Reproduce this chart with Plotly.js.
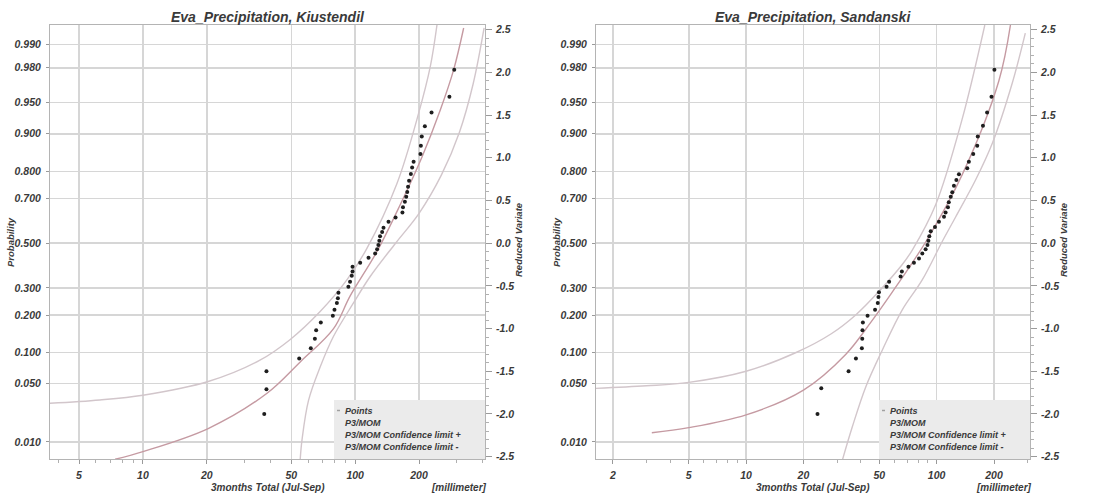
<!DOCTYPE html>
<html><head><meta charset="utf-8">
<script src="https://cdn.plot.ly/plotly-3.0.1.min.js"></script>
<style>html,body{margin:0;padding:0;background:#fff}#chart{width:1093px;height:494px}</style>
</head><body><div id="chart"></div>
<script>
// ---------- Data ----------
// Kiustendil: observed points (mm, reduced variate)
const kiuPointsMm = [37.3,38.2,38.2,54.5,61.8,64.6,65.5,68.9,78.5,79.9,82,82.9,83.4,92.9,94.6,96.4,97.2,97.2,105.6,115.6,124.2,126.9,128.6,130,131,134,136,143.6,155,167,168,171.5,174,176,177.5,179.5,183,185.5,188.5,203,204,206,213,229,278,293];
const kiuPointsVar = [-2.00,-1.71,-1.50,-1.35,-1.23,-1.12,-1.02,-0.93,-0.85,-0.78,-0.70,-0.645,-0.58,-0.51,-0.45,-0.38,-0.33,-0.275,-0.23,-0.17,-0.12,-0.07,-0.02,0.03,0.08,0.13,0.18,0.25,0.30,0.36,0.42,0.486,0.545,0.60,0.66,0.73,0.81,0.885,0.955,1.045,1.14,1.25,1.37,1.53,1.715,2.03];
// Kiustendil: P3/MOM fit and confidence limits
const kiuFitMm = [7.4,10,20.3,38.3,55.1,79.1,94.6,126.5,163,206.5,251.8,291,324.5];
const kiuFitVar = [-2.53,-2.44,-2.17,-1.76,-1.39,-1.0,-0.62,-0.1,0.45,1.01,1.56,2.03,2.52];
const kiuUpperMm = [3.64,6.27,10,20.3,35.6,49.3,68.4,91.4,113.6,157.4,199,226,242.9];
const kiuUpperVar = [-1.875,-1.836,-1.78,-1.62,-1.37,-1.13,-0.80,-0.43,-0.06,0.70,1.52,2.07,2.555];
const kiuLowerMm = [55.1,56.2,60.3,68.4,79.1,98.2,117.7,155,200,255,310,360,405];
const kiuLowerVar = [-2.53,-2.30,-1.84,-1.45,-1.09,-0.70,-0.39,0.0,0.35,0.80,1.30,1.87,2.52];

// Sandanski: observed points
const sanPointsMm = [23.7,24.8,34.5,37.7,40.5,40.7,40.8,41,43.4,47.5,49.1,49.5,49.8,54.6,56.3,64.7,65.7,71.1,76,80.8,84.1,87.5,89.5,90.5,91.5,93.1,98,102.8,109.3,111.4,114.6,115.8,118.6,120.8,123.2,126.9,130.9,144.8,147.6,155.6,163.3,164.4,175,184,194,201];
const sanPointsVar = [-2.00,-1.70,-1.50,-1.35,-1.23,-1.12,-1.02,-0.93,-0.85,-0.78,-0.70,-0.63,-0.575,-0.51,-0.45,-0.39,-0.33,-0.275,-0.23,-0.18,-0.12,-0.07,-0.02,0.03,0.08,0.14,0.19,0.25,0.31,0.36,0.42,0.478,0.545,0.596,0.673,0.74,0.807,0.877,0.955,1.045,1.14,1.25,1.376,1.53,1.715,2.03];
// Sandanski: P3/MOM fit and confidence limits
const sanFitMm = [3.2,5,10,20,33.4,45,58.6,87.9,136,212,244];
const sanFitVar = [-2.22,-2.16,-2.01,-1.72,-1.30,-0.93,-0.57,0.02,0.80,1.90,2.555];
const sanUpperMm = [1.63,3,5,10,18.3,28,37.6,50,66,74.5,98.8,136,179];
const sanUpperVar = [-1.70,-1.67,-1.63,-1.50,-1.28,-1.06,-0.84,-0.56,-0.25,-0.08,0.45,1.45,2.555];
const sanLowerMm = [32.1,36.1,42.5,51.9,66,84,107,126,160,196,249,292];
const sanLowerVar = [-2.53,-2.15,-1.68,-1.25,-0.78,-0.43,0.02,0.31,0.74,1.17,1.87,2.46];

// Tick labels
const probTicks = [0.010,0.050,0.100,0.200,0.300,0.500,0.700,0.800,0.900,0.950,0.980,0.990];
const probTickText = ['0.010','0.050','0.100','0.200','0.300','0.500','0.700','0.800','0.900','0.950','0.980','0.990'];
const variateTicks = [-2.5,-2.0,-1.5,-1.0,-0.5,0.0,0.5,1.0,1.5,2.0,2.5];
const variateTickText = ['-2.5','-2.0','-1.5','-1.0','-0.5','0.0','0.5','1.0','1.5','2.0','2.5'];
const kiuXTicks = [5,10,20,50,100,200];
const sanXTicks = [2,5,10,20,50,100,200];
const xMinorTicks = [2,3,4,6,7,8,9,30,40,60,70,80,90,300,400];

const titles = ['Eva_Precipitation, Kiustendil','Eva_Precipitation, Sandanski'];
const xTitle = '3months Total (Jul-Sep)';
const unitText = '[millimeter]';
const legendNames = ['Points','P3/MOM','P3/MOM Confidence limit +','P3/MOM Confidence limit -'];

// inverse standard normal (probability -> reduced variate), used for the probability tick positions
function probit(p){
  const a=[-3.969683028665376e+01,2.209460984245205e+02,-2.759285104469687e+02,1.383577518672690e+02,-3.066479806614716e+01,2.506628277459239e+00];
  const b=[-5.447609879822406e+01,1.615858368580409e+02,-1.556989798598866e+02,6.680131188771972e+01,-1.328068155288572e+01];
  const c=[-7.784894002430293e-03,-3.223964580411365e-01,-2.400758277161838e+00,-2.549732539343734e+00,4.374664141464968e+00,2.938163982698783e+00];
  const d=[7.784695709041462e-03,3.224671290700398e-01,2.445134137142996e+00,3.754408661907416e+00];
  const pl=0.02425; let q,r;
  if(p<pl){q=Math.sqrt(-2*Math.log(p));return (((((c[0]*q+c[1])*q+c[2])*q+c[3])*q+c[4])*q+c[5])/((((d[0]*q+d[1])*q+d[2])*q+d[3])*q+1);}
  if(p<=1-pl){q=p-0.5;r=q*q;return (((((a[0]*r+a[1])*r+a[2])*r+a[3])*r+a[4])*r+a[5])*q/(((((b[0]*r+b[1])*r+b[2])*r+b[3])*r+b[4])*r+1);}
  q=Math.sqrt(-2*Math.log(1-p));return -(((((c[0]*q+c[1])*q+c[2])*q+c[3])*q+c[4])*q+c[5])/((((d[0]*q+d[1])*q+d[2])*q+d[3])*q+1);
}

// ---------- Layout helpers ----------
const W=1093, H=494;
const px = v => v/W, py = v => 1 - v/H;
const FONT = 'Liberation Sans, Arial, sans-serif';
const TXT = '#3a3a3a';
const yRange = [-2.527, 2.555];
const yDomain = [py(459), py(25)];
const panels = [
  {x0:50, x1:485, xr:[Math.log10(3.65), Math.log10(409)], xt:kiuXTicks},
  {x0:596, x1:1030, xr:[Math.log10(1.63), Math.log10(309)], xt:sanXTicks}
];
const fitColor = '#c59aa2', confColor = '#d2c6cb';

const traces = [];
const sets = [
  {pm:kiuPointsMm, pv:kiuPointsVar, fm:kiuFitMm, fv:kiuFitVar, um:kiuUpperMm, uv:kiuUpperVar, lm:kiuLowerMm, lv:kiuLowerVar},
  {pm:sanPointsMm, pv:sanPointsVar, fm:sanFitMm, fv:sanFitVar, um:sanUpperMm, uv:sanUpperVar, lm:sanLowerMm, lv:sanLowerVar}
];
sets.forEach((s,i)=>{
  const xa = i===0 ? 'x' : 'x2';
  const ya = i===0 ? 'y' : 'y3';
  const yb = i===0 ? 'y2' : 'y4';
  traces.push({x:s.um, y:s.uv, xaxis:xa, yaxis:ya, mode:'lines', line:{color:confColor, width:1.4, shape:'spline', smoothing:1}, name:legendNames[2], showlegend:false, hoverinfo:'skip'});
  traces.push({x:s.lm, y:s.lv, xaxis:xa, yaxis:ya, mode:'lines', line:{color:confColor, width:1.4, shape:'spline', smoothing:1}, name:legendNames[3], showlegend:false, hoverinfo:'skip'});
  traces.push({x:s.fm, y:s.fv, xaxis:xa, yaxis:ya, mode:'lines', line:{color:fitColor, width:1.4, shape:'spline', smoothing:1}, name:legendNames[1], showlegend:false, hoverinfo:'skip'});
  traces.push({x:s.pm, y:s.pv, xaxis:xa, yaxis:ya, mode:'markers', marker:{color:'#1e1e1e', size:4, symbol:'circle'}, name:legendNames[0], showlegend:false});
  traces.push({x:[s.pm[0]], y:[s.pv[0]], xaxis:xa, yaxis:yb, mode:'markers', marker:{opacity:0}, showlegend:false, hoverinfo:'skip'});
});

const tickFont = {family:FONT, size:10.5, color:TXT, weight:'bold', style:'italic'};
function xAxis(p, yAnchor){
  return {type:'log', domain:[px(p.x0), px(p.x1)], range:p.xr, anchor:yAnchor,
    tickmode:'array', tickvals:p.xt, ticktext:p.xt.map(String), ticks:'outside', ticklen:4, tickcolor:'#9a9a9a',
    ticklabelstandoff:2,
    minor:{tickmode:'array', tickvals:xMinorTicks, ticks:'outside', ticklen:3, tickcolor:'#b0b0b0', showgrid:false},
    showgrid:true, gridcolor:'#d6d6d6', gridwidth:1.5, showline:true, linecolor:'#b4b4b4', linewidth:1, mirror:true,
    zeroline:false, tickfont:tickFont, fixedrange:true};
}
function yLeft(xAnchor){
  return {domain:yDomain, range:yRange, anchor:xAnchor, tickmode:'array', tickvals:probTicks.map(probit), ticktext:probTickText,
    ticks:'outside', ticklen:3, tickcolor:'#9a9a9a', ticklabelstandoff:3,
    showgrid:true, gridcolor:'#d6d6d6', gridwidth:1.5, showline:true, linecolor:'#b4b4b4', mirror:true, zeroline:false, tickfont:tickFont};
}
function yRight(xAnchor, over){
  return {domain:yDomain, range:yRange, anchor:xAnchor, overlaying:over, side:'right', tickmode:'array', tickvals:variateTicks, ticktext:variateTickText,
    ticks:'outside', ticklen:6, tickcolor:'#9a9a9a', ticklabelstandoff:2,
    minor:{dtick:0.1, ticks:'outside', ticklen:3, tickcolor:'#b0b0b0', showgrid:false},
    showgrid:false, showline:false, zeroline:false, tickfont:tickFont};
}

const annFont = (sz) => ({family:FONT, size:sz, color:TXT, weight:'bold', style:'italic'});
const annotations = [];
const shapes = [];
panels.forEach((p,i)=>{
  const cx = (p.x0+p.x1)/2;
  annotations.push({xref:'paper', yref:'paper', x:px(cx), y:py(17), text:titles[i], showarrow:false, font:annFont(14), xanchor:'center', yanchor:'middle'});
  annotations.push({xref:'paper', yref:'paper', x:px(cx), y:py(487), text:xTitle, showarrow:false, font:annFont(10), xanchor:'center', yanchor:'middle'});
  annotations.push({xref:'paper', yref:'paper', x:px(p.x1+4), y:py(487), text:unitText, showarrow:false, font:annFont(10), xanchor:'right', yanchor:'middle'});
  annotations.push({xref:'paper', yref:'paper', x:px(p.x0-40), y:py(242), text:'Probability', textangle:-90, showarrow:false, font:annFont(9.5), xanchor:'center', yanchor:'middle'});
  annotations.push({xref:'paper', yref:'paper', x:px(p.x1+34), y:py(240), text:'Reduced Variate', textangle:-90, showarrow:false, font:annFont(9.5), xanchor:'center', yanchor:'middle'});
  // legend box
  const lx0 = p.x1-151;
  shapes.push({type:'rect', xref:'paper', yref:'paper', x0:px(lx0), x1:px(p.x1), y0:py(459), y1:py(400), fillcolor:'#ebebeb', line:{width:0}, layer:'above'});
  shapes.push({type:'line', xref:'paper', yref:'paper', x0:px(lx0+3), x1:px(lx0+6), y0:py(410.5), y1:py(410.5), line:{color:'#a0a0a0', width:1.5}, layer:'above'});
  legendNames.forEach((n,k)=>{
    annotations.push({xref:'paper', yref:'paper', x:px(lx0+9), y:py(410.5+k*12.2), text:n, showarrow:false, font:annFont(9), xanchor:'left', yanchor:'middle'});
  });
});

const layout = {
  width:W, height:H, margin:{l:0,r:0,t:0,b:0}, paper_bgcolor:'#fff', plot_bgcolor:'#fff', showlegend:false,
  xaxis:xAxis(panels[0],'y'), yaxis:yLeft('x'), yaxis2:yRight('x','y'),
  xaxis2:xAxis(panels[1],'y3'), yaxis3:yLeft('x2'), yaxis4:yRight('x2','y3'),
  annotations:annotations, shapes:shapes
};
Plotly.newPlot('chart', traces, layout, {displayModeBar:false, staticPlot:true});
</script></body></html>
